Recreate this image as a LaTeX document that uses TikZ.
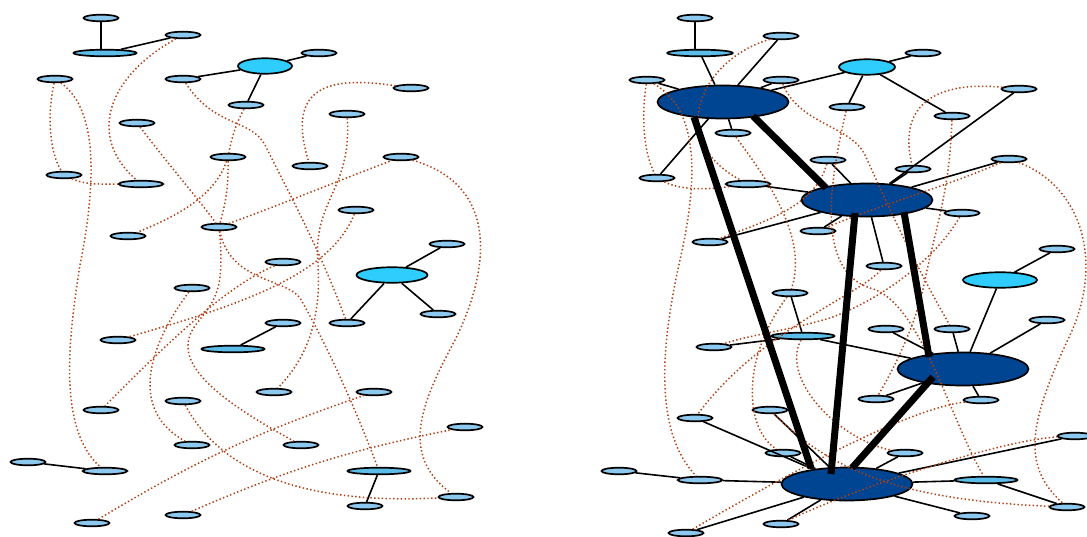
\documentclass[tikz,border=0pt]{standalone}
\usepackage{tikz}
\usetikzlibrary{shapes.geometric}
\usetikzlibrary{calc}
\definecolor{nodeblue}{RGB}{141,200,239}
\definecolor{wideblue}{RGB}{92,189,233}
\definecolor{hubcyan}{RGB}{46,205,253}
\definecolor{metablue}{RGB}{0,69,145}
\definecolor{depbrown}{RGB}{176,64,20}
\tikzstyle{graph}=[x=1pt, y=-1pt, line width=1.7pt]
\tikzstyle{t}=[ellipse, draw, fill=nodeblue, inner sep=0pt, minimum width=35pt, minimum height=6.6pt]
\tikzstyle{tm}=[t, minimum width=44.5pt]
\tikzstyle{tw}=[t, fill=wideblue, minimum width=63pt]
\tikzstyle{hub}=[ellipse, draw, fill=hubcyan, inner sep=0pt, minimum height=15.5pt]
\tikzstyle{meta}=[ellipse, draw, fill=metablue, inner sep=0pt, minimum width=131pt, minimum height=33pt]
\tikzstyle{edge}=[black, line width=1.6pt]
\tikzstyle{dep}=[depbrown, line width=1.5pt, dash pattern=on 1.4pt off 2.4pt]
\tikzstyle{heavy}=[black, line width=7pt]

\begin{document}
\begin{tikzpicture}[graph]
	\useasboundingbox (0,0) rectangle (1087,536);
	% left
	\draw (101,18) node[t] (l1) {};
	\draw (105,53) node[tw] (l2) {};
	\draw (183,35) node[t] (l3) {};
	\draw (55,79) node[t] (l4) {};
	\draw (183,79) node[t] (l5) {};
	\draw (265,66) node[hub, minimum width=54pt] (c1) {};
	\draw (246,105) node[t] (l6) {};
	\draw (137,123) node[t] (l7) {};
	\draw (64,175) node[t] (l8) {};
	\draw (141,184) node[tm] (l9) {};
	\draw (228,157) node[t] (l10) {};
	\draw (128,236) node[t] (l11) {};
	\draw (219,227) node[t] (l12) {};
	\draw (319,53) node[t] (l13) {};
	\draw (411,88) node[t] (l14) {};
	\draw (347,114) node[t] (l15) {};
	\draw (310,166) node[t] (l16) {};
	\draw (401,157) node[t] (l17) {};
	\draw (356,210) node[t] (l18) {};
	\draw (283,262) node[t] (l19) {};
	\draw (447,244) node[t] (l20) {};
	\draw (392,275) node[hub, minimum width=71pt] (c2) {};
	\draw (192,288) node[t] (l21) {};
	\draw (118,340) node[t] (l22) {};
	\draw (233,349) node[tw] (l23) {};
	\draw (283,323) node[t] (l24) {};
	\draw (101,410) node[t] (l25) {};
	\draw (183,401) node[t] (l26) {};
	\draw (192,445) node[t] (l27) {};
	\draw (28,462) node[t] (l28) {};
	\draw (105,471) node[tm] (l29) {};
	\draw (92,523) node[t] (l30) {};
	\draw (183,515) node[t] (l31) {};
	\draw (347,323) node[t] (l32) {};
	\draw (438,314) node[t] (l33) {};
	\draw (274,392) node[t] (l34) {};
	\draw (374,392) node[t] (l35) {};
	\draw (301,445) node[t] (l36) {};
	\draw (465,427) node[t] (l37) {};
	\draw (379,471) node[tw] (l38) {};
	\draw (365,506) node[t] (l39) {};
	\draw (456,497) node[t] (l40) {};
	\draw[edge] (l1) -- (l1 |- l2.north);
	\draw[edge] (l2) -- (l3);
	\draw[edge] (l5) -- (c1);
	\draw[edge] (c1) -- (l13);
	\draw[edge] (c1) -- (l6);
	\draw[edge] (c2) -- (l20);
	\draw[edge] (c2) -- (l32);
	\draw[edge] (c2) -- (l33);
	\draw[edge] (l24) -- (l23);
	\draw[edge] (l28) -- (l29);
	\draw[edge] (l38) -- (l39);
	\draw[dep] (l3) .. controls (110,75) and (85,135) .. (l9);
	\draw[dep] (l4) .. controls (48,110) and (48,150) .. (l8);
	\draw[dep] (l4) .. controls (100,110) and (95,190) .. (80,265) .. controls (68,340) and (58,430) .. (l29);
	\draw[dep] (l8) .. controls (85,185) and (100,184) .. (l9);
	\draw[dep] (l7) .. controls (165,160) and (195,195) .. (l12);
	\draw[dep] (l10) .. controls (215,195) and (180,215) .. (l11);
	\draw[dep] (l12) .. controls (280,205) and (340,180) .. (l17);
	\draw[dep] (l6) to[bend right=8] (l10);
	\draw[dep] (l10) to[bend left=8] (l12);
	\draw[dep] (l5) .. controls (215,128) and (250,118) .. (265,145) .. controls (290,195) and (320,250) .. (l32);
	\draw[dep] (l14) .. controls (330,76) and (285,85) .. (l16);
	\draw[dep] (l15) .. controls (352,190) and (312,200) .. (318,265) .. controls (322,330) and (300,365) .. (l34);
	\draw[dep] (l17) .. controls (500,185) and (490,270) .. (455,340) .. controls (420,405) and (400,455) .. (l40);
	\draw[dep] (l18) .. controls (330,275) and (240,305) .. (l22);
	\draw[dep] (l19) .. controls (230,285) and (180,330) .. (l25);
	\draw[dep] (l21) .. controls (160,330) and (120,405) .. (l27);
	\draw[dep] (l12) .. controls (230,282) and (285,278) .. (300,298) .. controls (330,350) and (360,420) .. (l38);
	\draw[dep] (l12) .. controls (225,290) and (215,300) .. (198,322) .. controls (170,355) and (200,390) .. (l36);
	\draw[dep] (l26) .. controls (220,470) and (300,505) .. (l40);
	\draw[dep] (l30) to[bend left=6] (l35);
	\draw[dep] (l31) to[bend left=6] (l37);
	% right
	\draw (695,18) node[t] (r1) {};
	\draw (700,53) node[tw, minimum width=65.5pt] (r2) {};
	\draw (781,36) node[t] (r3) {};
	\draw (647,80) node[t] (r4) {};
	\draw (781,80) node[t] (r5) {};
	\draw (723,102) node[meta] (m1) {};
	\draw (733,133) node[t] (r6) {};
	\draw (657,178) node[t] (r7) {};
	\draw (748,184) node[tm] (r8) {};
	\draw (828,160) node[t] (r9) {};
	\draw (710,242) node[t] (r10) {};
	\draw (818,231) node[t] (r11) {};
	\draw (867,200) node[meta] (m2) {};
	\draw (867,67) node[hub, minimum width=56pt] (c3) {};
	\draw (923,53) node[t] (r12) {};
	\draw (847,107) node[t] (r13) {};
	\draw (1019,89) node[t] (r14) {};
	\draw (952,116) node[t] (r15) {};
	\draw (913,169) node[t] (r16) {};
	\draw (1009,159) node[t] (r17) {};
	\draw (962,213) node[t] (r18) {};
	\draw (884,266) node[t] (r19) {};
	\draw (1057,249) node[t] (r20) {};
	\draw (1000,280) node[hub, minimum width=74pt] (c4) {};
	\draw (1047,320) node[t] (r21) {};
	\draw (886,329) node[t] (r22) {};
	\draw (952,329) node[t] (r23) {};
	\draw (963,369) node[meta] (m3) {};
	\draw (876,399) node[t] (r24) {};
	\draw (981,400) node[t] (r25) {};
	\draw (905,453) node[t] (r26) {};
	\draw (1075,436) node[t] (r27) {};
	\draw (986,480) node[tw] (r28) {};
	\draw (1067,507) node[t] (r29) {};
	\draw (972,516) node[t] (r30) {};
	\draw (847,484) node[meta] (m4) {};
	\draw (790,293) node[t] (r31) {};
	\draw (803,336) node[tw] (r32) {};
	\draw (714,347) node[t] (r33) {};
	\draw (695,418) node[t] (r34) {};
	\draw (770,410) node[t] (r35) {};
	\draw (783,453) node[t] (r36) {};
	\draw (619,471) node[t] (r37) {};
	\draw (700,480) node[tm] (r38) {};
	\draw (781,524) node[t] (r39) {};
	\draw (686,533) node[t] (r40) {};
	\draw[edge] (r1) -- (r1 |- r2.north);
	\draw[edge] (r2) -- (m1);
	\draw[edge] (r3) -- (m1);
	\draw[edge] (r4) -- (m1);
	\draw[edge] (r5) -- (m1);
	\draw[edge] (m1) -- (c3);
	\draw[edge] (m1) -- (r6);
	\draw[edge] (m1) -- (r7);
	\draw[edge] (c3) -- (r12);
	\draw[edge] (c3) -- (r13);
	\draw[edge] (c3) -- (r15);
	\draw[edge] (m2) -- (r9);
	\draw[edge] (m2) -- (r8);
	\draw[edge] (m2) -- (r10);
	\draw[edge] (m2) -- (r11);
	\draw[edge] (m2) -- (r16);
	\draw[edge] (m2) -- (r14);
	\draw[edge] (m2) -- (r17);
	\draw[edge] (m2) -- (r18);
	\draw[edge] (m2) -- (r19);
	\draw[edge] (c4) -- (r20);
	\draw[edge] (m3) -- (c4);
	\draw[edge] (m3) -- (r32);
	\draw[edge] (m3) -- (r21);
	\draw[edge] (m3) -- (r22);
	\draw[edge] (m3) -- (r23);
	\draw[edge] (m3) -- (r24);
	\draw[edge] (m3) -- (r25);
	\draw[edge] (r31) -- (r32);
	\draw[edge] (r33) -- (r32);
	\draw[edge] (m4) -- (r34);
	\draw[edge] (m4) -- (r35);
	\draw[edge] (m4) -- (r36);
	\draw[edge] (m4) -- (r38);
	\draw[edge] (r38) -- (r37);
	\draw[edge] (m4) -- (r40);
	\draw[edge] (m4) -- (r39);
	\draw[edge] (m4) -- (r26);
	\draw[edge] (m4) -- (r27);
	\draw[edge] (m4) -- (r28);
	\draw[edge] (r28) -- (r29);
	\draw[edge] (m4) -- (r30);
	\draw[dep] (r3) .. controls (700,60) and (665,140) .. (r8);
	\draw[dep] (r4) .. controls (642,110) and (642,150) .. (r7);
	\draw[dep] (r4) .. controls (700,110) and (698,180) .. (680,260) .. controls (662,340) and (652,430) .. (r38);
	\draw[dep] (r7) .. controls (680,190) and (705,190) .. (r8);
	\draw[dep] (r5) .. controls (800,125) and (850,125) .. (865,155) .. controls (890,210) and (915,265) .. (r23);
	\draw[dep] (r6) .. controls (760,170) and (810,235) .. (r31);
	\draw[dep] (r9) .. controls (815,205) and (770,220) .. (r10);
	\draw[dep] (r13) .. controls (830,180) and (815,270) .. (870,288) .. controls (920,300) and (950,420) .. (r28);
	\draw[dep] (r14) .. controls (950,82) and (895,95) .. (r16);
	\draw[dep] (r15) .. controls (950,190) and (935,230) .. (925,280) .. controls (915,330) and (890,375) .. (r24);
	\draw[dep] (r17) .. controls (1080,185) and (1105,260) .. (1070,335) .. controls (1030,420) and (1020,465) .. (r29);
	\draw[dep] (r17) .. controls (950,185) and (880,205) .. (r11);
	\draw[dep] (r18) .. controls (935,260) and (880,300) .. (830,318) .. controls (790,330) and (750,335) .. (r33);
	\draw[dep] (r19) .. controls (860,295) and (760,330) .. (r34);
	\draw[dep] (r31) .. controls (740,360) and (745,430) .. (r36);
	\draw[dep] (r32) .. controls (780,380) and (840,440) .. (r26);
	\draw[dep] (r40) .. controls (760,490) and (900,410) .. (r25);
	\draw[dep] (r39) .. controls (850,490) and (1000,440) .. (r27);
	\draw[dep] (r35) .. controls (830,470) and (900,500) .. (r29);
	\draw[heavy] ($(m1)+(-29,15)$) -- ($(m4)+(-36,-16)$);
	\draw[heavy] ($(m1)+(30,14)$) -- ($(m2)+(-41,-12)$);
	\draw[heavy] ($(m2)+(-12,13)$) -- ($(m4)+(-16,-10)$);
	\draw[heavy] ($(m2)+(37,12)$) -- ($(m3)+(-34,-12)$);
	\draw[heavy] ($(m3)+(-30,8)$) -- ($(m4)+(5,-16)$);
\end{tikzpicture}
\end{document}
